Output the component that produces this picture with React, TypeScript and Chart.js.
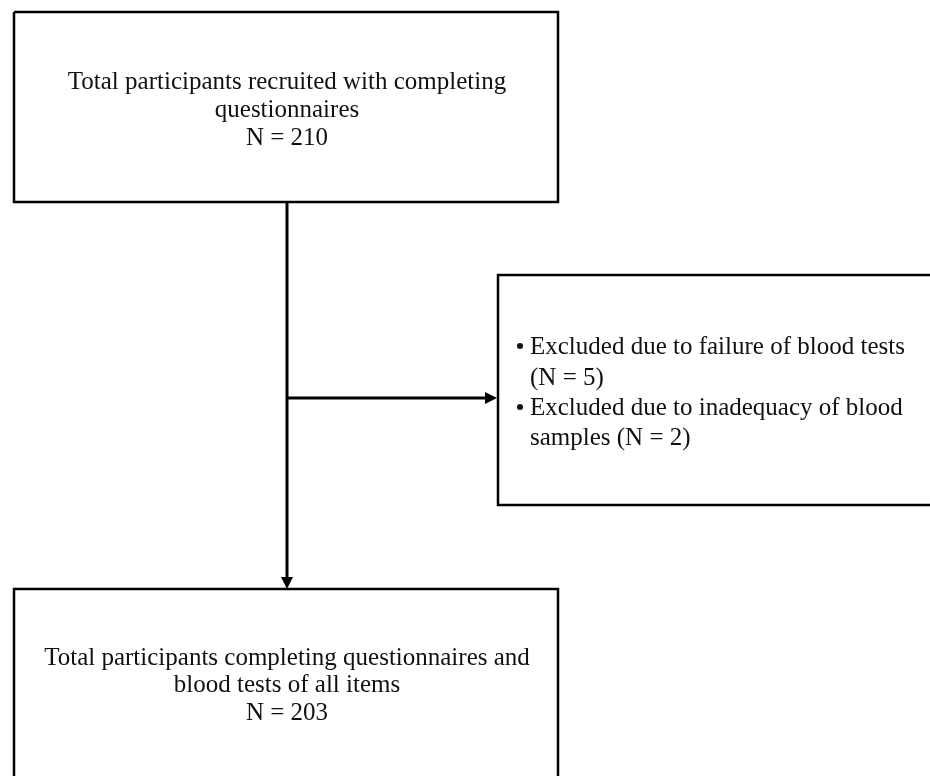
import React, { useEffect, useRef } from "react";
import { Chart, registerables } from "chart.js";

Chart.register(...registerables);

// Diagram coordinate space (units match the 930 x 776 figure)
const X_MAX = 930;
const Y_MAX = 776;

// Box outlines as polylines (x, y in diagram units)
const box1X = [14, 558, 558, 14, 14];
const box1Y = [12, 12, 202, 202, 12];
const box2X = [940, 498, 498, 940];
const box2Y = [275, 275, 505, 505];
const box3X = [14, 14, 558, 558];
const box3Y = [790, 589, 589, 790];

// Connectors
const mainLineX = [287, 287];
const mainLineY = [202, 580];
const branchLineX = [287, 487];
const branchLineY = [398, 398];

// Arrow tips
const arrowTipX = [287, 497];
const arrowTipY = [589, 398];
const arrowDir = ["down", "right"];

// Text
const box1Lines = ["Total participants recruited with completing", "questionnaires", "N = 210"];
const box1CenterX = 287;
const box1Baselines = [89, 117, 145];

const box2Lines = ["Excluded due to failure of blood tests", "(N = 5)", "Excluded due to inadequacy of blood", "samples (N = 2)"];
const box2Bullets = [true, false, true, false];
const box2TextX = 530;
const box2BulletX = 520;
const box2Baselines = [354, 385, 415, 445];

const box3Lines = ["Total participants completing questionnaires and", "blood tests of all items", "N = 203"];
const box3CenterX = 287;
const box3Baselines = [665, 692, 720];

const toPts = (xs: number[], ys: number[]) => xs.map((x, i) => ({ x, y: ys[i] }));

const FONT = '25px "Liberation Serif", "Times New Roman", serif';
const INK = "#111111";

const flowPlugin = {
  id: "flowText",
  afterDatasetsDraw(chart: any) {
    const { ctx, scales } = chart;
    const sx = scales.x;
    const sy = scales.y;
    ctx.save();
    ctx.fillStyle = "#000";
    // arrowheads
    arrowTipX.forEach((tx, i) => {
      const px = sx.getPixelForValue(tx);
      const py = sy.getPixelForValue(arrowTipY[i]);
      ctx.beginPath();
      if (arrowDir[i] === "down") {
        ctx.moveTo(px, py);
        ctx.lineTo(px - 6, py - 12);
        ctx.lineTo(px + 6, py - 12);
      } else {
        ctx.moveTo(px, py);
        ctx.lineTo(px - 12, py - 6);
        ctx.lineTo(px - 12, py + 6);
      }
      ctx.closePath();
      ctx.fill();
    });
    // text
    ctx.fillStyle = INK;
    ctx.font = FONT;
    ctx.textBaseline = "alphabetic";
    ctx.textAlign = "center";
    box1Lines.forEach((t, i) => {
      ctx.fillText(t, sx.getPixelForValue(box1CenterX), sy.getPixelForValue(box1Baselines[i]));
    });
    box3Lines.forEach((t, i) => {
      ctx.fillText(t, sx.getPixelForValue(box3CenterX), sy.getPixelForValue(box3Baselines[i]));
    });
    ctx.textAlign = "left";
    box2Lines.forEach((t, i) => {
      const py = sy.getPixelForValue(box2Baselines[i]);
      ctx.fillText(t, sx.getPixelForValue(box2TextX), py);
      if (box2Bullets[i]) {
        ctx.beginPath();
        ctx.arc(sx.getPixelForValue(box2BulletX), py - 8, 3, 0, Math.PI * 2);
        ctx.fill();
      }
    });
    ctx.restore();
  },
};

export default function App() {
  const ref = useRef<HTMLCanvasElement | null>(null);
  useEffect(() => {
    if (!ref.current) return;
    const lineDs = (label: string, xs: number[], ys: number[], w: number) => ({
      label,
      data: toPts(xs, ys),
      showLine: true,
      borderColor: "#000",
      borderWidth: w,
      pointRadius: 0,
      fill: false,
      tension: 0,
    });
    const chart = new Chart(ref.current, {
      type: "scatter",
      data: {
        datasets: [
          lineDs("box1", box1X, box1Y, 2.5),
          lineDs("box2", box2X, box2Y, 2.5),
          lineDs("box3", box3X, box3Y, 2.5),
          lineDs("main", mainLineX, mainLineY, 3),
          lineDs("branch", branchLineX, branchLineY, 3),
        ],
      },
      options: {
        animation: false,
        responsive: false,
        devicePixelRatio: 1,
        layout: { padding: 0 },
        plugins: { legend: { display: false }, tooltip: { enabled: false } },
        events: [],
        scales: {
          x: { type: "linear", min: 0, max: X_MAX, display: false },
          y: { type: "linear", min: 0, max: Y_MAX, reverse: true, display: false },
        },
      },
      plugins: [flowPlugin],
    });
    return () => chart.destroy();
  }, []);
  return (
    <div style={{ position: "fixed", left: 0, top: 0, width: 930, height: 776, background: "#fff" }}>
      <canvas ref={ref} width={930} height={776} style={{ display: "block" }} />
    </div>
  );
}
